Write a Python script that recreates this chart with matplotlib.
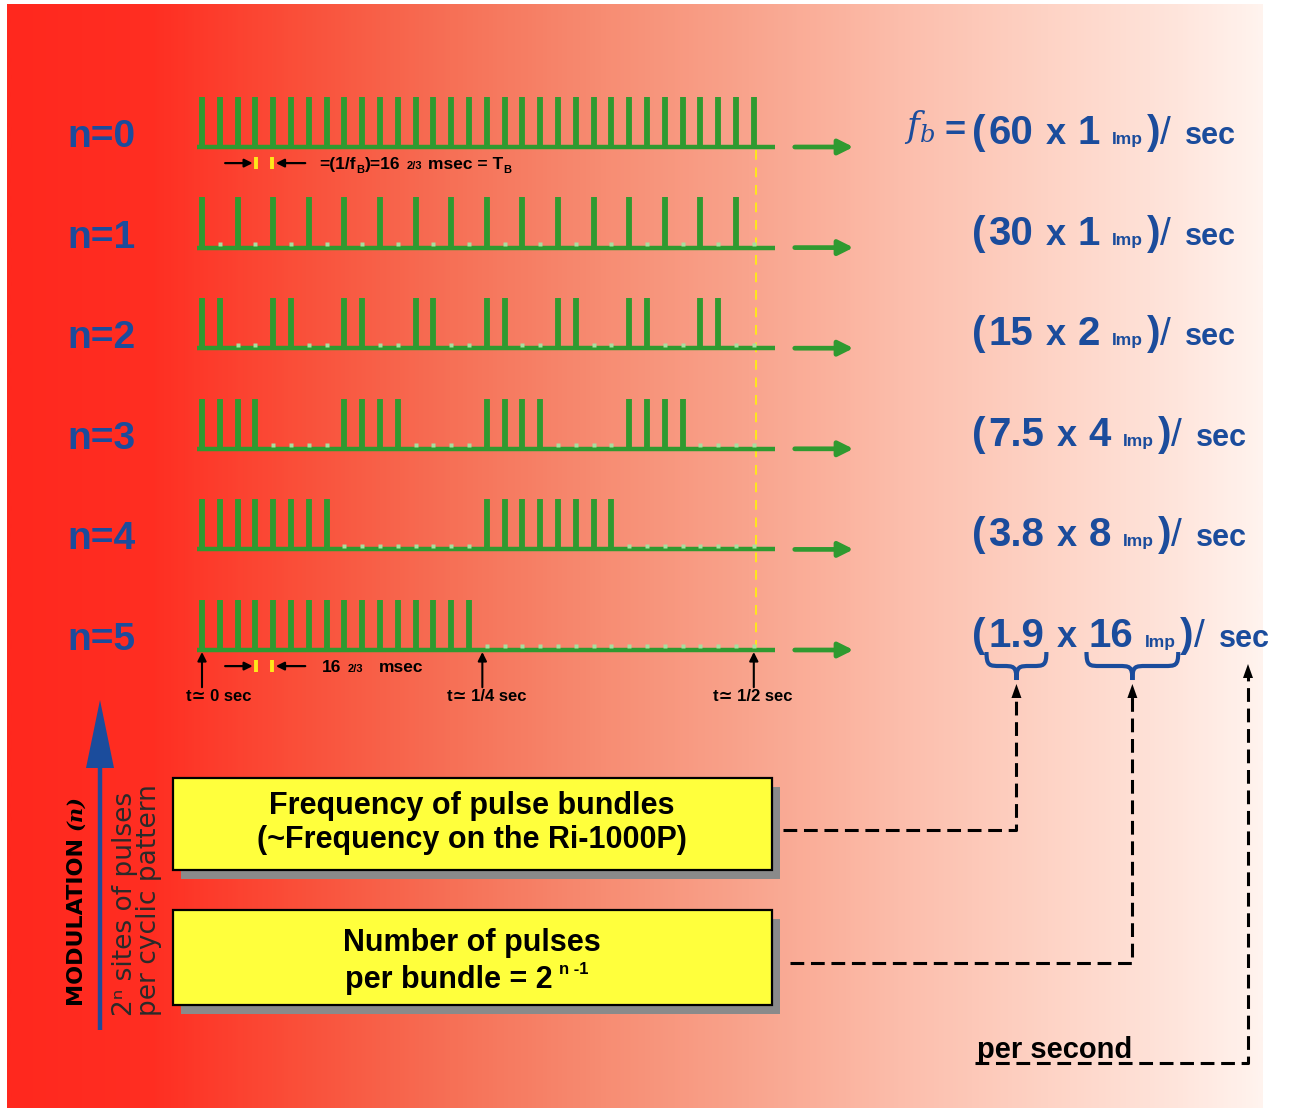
import matplotlib
matplotlib.use('Agg')
import matplotlib.pyplot as plt
import numpy as np
from matplotlib.patches import Rectangle, Polygon, PathPatch
from matplotlib.path import Path
from matplotlib.colors import LinearSegmentedColormap

plt.rcParams['font.family'] = ['Liberation Sans', 'DejaVu Sans']

# ---- data ----
row_labels = ['n=0', 'n=1', 'n=2', 'n=3', 'n=4', 'n=5']
# 1 = pulse at that site, 0 = empty site (small dot)
pulse_patterns = [
    '11111111111111111111111111111111',
    '10101010101010101010101010101010',
    '11001100110011001100110011001100',
    '11110000111100001111000011110000',
    '11111111000000001111111100000000',
    '11111111111111110000000000000000',
]
bundle_freq = ['60', '30', '15', '7.5', '3.8', '1.9']
pulses_per_bundle = ['1', '1', '2', '4', '8', '16']
time_marks = [0, 15.75, 31]
time_labels = ['t\u2243 0 sec', 't\u2243 1/4 sec', 't\u2243 1/2 sec']
time_label_x = [186, 447, 713]

GREEN = '#2f9a30'
DOT = '#a6e0a0'
BLUE = '#1b4c9c'
YEL = '#ffff3c'
NARROW = ['Liberation Sans Narrow', 'Liberation Sans', 'DejaVu Sans']

fig = plt.figure(figsize=(12.93, 11.08), dpi=100, facecolor='white')
rend = fig.canvas.get_renderer()

# background axes in pixel units
bg = fig.add_axes([0, 0, 1, 1])
gx = np.array([7, 150, 300, 450, 600, 750, 900, 1050, 1180, 1263])
gc = np.array([(255, 40, 30), (255, 46, 34), (250, 80, 58), (246, 112, 86),
               (247, 140, 114), (249, 164, 141), (252, 189, 171),
               (254, 211, 197), (255, 229, 220), (255, 243, 238)]) / 255
cmap = LinearSegmentedColormap.from_list('bg', list(zip((gx - 7) / (1263 - 7), gc)))
bg.imshow(np.linspace(0, 1, 600)[None, :], cmap=cmap, extent=[7, 1263, 1108, 4],
          aspect='auto', zorder=0, interpolation='bilinear')
bg.set_xlim(0, 1293)
bg.set_ylim(1108, 0)
bg.axis('off')

# pulse-train axes: x = pulse site index, y = row n
S = 17.8
ROW = 100.6
x_lo, x_hi, y_lo, y_hi = -1, 38, -0.8, 5.6
left_px = 202 + x_lo * S
top_px = 147 + y_lo * ROW
bot_px = 147 + y_hi * ROW
pa = fig.add_axes([left_px / 1293, 1 - bot_px / 1108,
                   (x_hi - x_lo) * S / 1293, (bot_px - top_px) / 1108])
pa.set_xlim(x_lo, x_hi)
pa.set_ylim(y_hi, y_lo)
pa.axis('off')
pa.patch.set_alpha(0)

for i, pat in enumerate(pulse_patterns):
    sites = np.arange(len(pat))
    on = sites[np.array([c == '1' for c in pat])]
    off = sites[np.array([c == '0' for c in pat])]
    pa.plot([-0.3, 32.2], [i, i], color=GREEN, lw=3.2, solid_capstyle='butt', zorder=3)
    pa.vlines(on, i, i - 0.5, color=GREEN, lw=4.2, zorder=3)
    pa.plot(off, [i - 0.035] * len(off), 's', ms=2.8, color=DOT, mec='none', zorder=4)
    pa.annotate('', xy=(36.6, i), xytext=(33.3, i),
                arrowprops=dict(arrowstyle='-|>', color=GREEN, lw=3.4,
                                mutation_scale=22, shrinkA=0, shrinkB=0))

# yellow dashed marker at 1/2 sec
pa.plot([time_marks[2] + 0.15] * 2, [0.03, 5], color='#ffe81a', lw=1.4,
        ls=(0, (5, 4)), zorder=2)

# time arrows under last row
for s in time_marks:
    pa.annotate('', xy=(s, 5.02), xytext=(s, 5.37),
                arrowprops=dict(arrowstyle='-|>', color='black', lw=1.5,
                                mutation_scale=13, shrinkA=0, shrinkB=0))


def to_bg(x, y):
    return bg.transData.inverted().transform(pa.transData.transform((x, y)))


def run(x, y, pieces, **common):
    spans = []
    for txt, size, dy, gap, kw in pieces:
        opts = dict(common)
        opts.update(kw)
        t = bg.text(x, y + dy, txt, fontsize=size, va='baseline', ha='left', **opts)
        w = t.get_window_extent(renderer=rend).width
        spans.append((x, x + w))
        x += w + gap
    return spans


# period markers ->| |<- (rows 0 and 5)
for r in (0, 5):
    yb = r + 0.16
    pa.annotate('', xy=(2.85, yb), xytext=(1.3, yb),
                arrowprops=dict(arrowstyle='-|>', color='black', lw=1.6,
                                mutation_scale=12, shrinkA=0, shrinkB=0))
    pa.annotate('', xy=(4.15, yb), xytext=(5.8, yb),
                arrowprops=dict(arrowstyle='-|>', color='black', lw=1.6,
                                mutation_scale=12, shrinkA=0, shrinkB=0))
    pa.vlines([3.05, 3.95], yb - 0.06, yb + 0.06, color='#ffe81a', lw=2.8, zorder=5)

bx, by = to_bg(6.6, 0.16)
run(bx, by + 6, [('=(1/f', 12.5, 0, 0, {}), ('B', 8, 4, 1, {}), (')=16', 12.5, 0, 6, {}),
                 ('2/3', 8, 0, 6, {}), ('msec = T', 12.5, 0, 0, {}), ('B', 8, 4, 0, {})],
    color='black', weight='bold')
bx, by = to_bg(6.75, 5.16)
run(bx, by + 6, [('16', 12.5, 0, 6, {}), ('2/3', 8, 0, 16, {}), ('msec', 12.5, 0, 0, {})],
    color='black', weight='bold')

for lab, lx in zip(time_labels, time_label_x):
    bg.text(lx, 701, lab, fontsize=12, weight='bold', color='black', va='baseline')

# row labels and frequency expressions
spans5 = None
for i in range(len(row_labels)):
    _, yb = to_bg(0, i)
    bg.text(67, yb, row_labels[i], fontsize=28, weight='bold', color=BLUE,
            va='baseline', ha='left')
    sp = run(972, yb - 3,
             [('(', 29, 0, 3, {}), (bundle_freq[i], 29, 0, 12, {}), ('x', 26, 0, 12, {}),
              (pulses_per_bundle[i], 29, 0, 12, {}), ('Imp', 12.5, 0, 4, {}),
              (')', 29, 0, 0, {}), ('/', 28, 0, 14, {'weight': 'normal'}),
              ('sec', 22, 0, 0, {})],
             color=BLUE, weight='bold')
    if i == 5:
        spans5 = sp
_, yb0 = to_bg(0, 0)
bg.text(904, yb0 - 10, r'$f_b$', fontsize=25, color=BLUE, ha='left', va='baseline',
        math_fontfamily='dejavuserif')
bg.text(945, yb0 - 6, '=', fontsize=26, color=BLUE, weight='bold', ha='left', va='baseline')


def brace(x0, x1, ytop, ybot, **kw):
    xm = (x0 + x1) / 2
    ym = (ytop + ybot) / 2
    r = min((ybot - ytop) / 2, (x1 - x0) / 4)
    verts = [(x0, ytop), (x0, ytop + r), (x0 + r * 0.2, ym), (x0 + r, ym),
             (xm - r, ym),
             (xm - r * 0.2, ym), (xm, ym), (xm, ybot),
             (xm, ym), (xm + r * 0.2, ym), (xm + r, ym),
             (x1 - r, ym),
             (x1 - r * 0.2, ym), (x1, ytop + r), (x1, ytop)]
    codes = [Path.MOVETO, Path.CURVE4, Path.CURVE4, Path.CURVE4, Path.LINETO,
             Path.CURVE4, Path.CURVE4, Path.CURVE4,
             Path.CURVE4, Path.CURVE4, Path.CURVE4, Path.LINETO,
             Path.CURVE4, Path.CURVE4, Path.CURVE4]
    bg.add_patch(PathPatch(Path(verts, codes), fc='none', **kw))
    return xm


tip1 = brace(spans5[1][0] - 2, spans5[1][1] + 2, 652, 680, ec=BLUE, lw=3)
tip2 = brace(spans5[3][0] - 2, spans5[4][1] + 2, 652, 680, ec=BLUE, lw=3)
tip3 = (spans5[7][0] + spans5[7][1]) / 2 + 4

# yellow boxes with shadow
box_y = [(778, 870), (910, 1005)]
for (y0, y1) in box_y:
    bg.add_patch(Rectangle((181, y0 + 9), 599, y1 - y0, fc='#8a8a8a', ec='none', zorder=2))
    bg.add_patch(Rectangle((173, y0), 599, y1 - y0, fc=YEL, ec='black', lw=1.6, zorder=3))

bg.text(472, 806, 'Frequency of pulse bundles', fontsize=22, weight='bold',
        family=NARROW, ha='center', va='center', zorder=4)
bg.text(472, 840, '(~Frequency on the Ri-1000P)', fontsize=22, weight='bold',
        family=NARROW, ha='center', va='center', zorder=4)
bg.text(472, 943, 'Number of pulses', fontsize=22, weight='bold',
        family=NARROW, ha='center', va='center', zorder=4)
run(345, 988, [('per bundle = 2', 22, 0, 6, {}), ('n -1', 12, -14, 0, {})],
    color='black', weight='bold', family=NARROW, zorder=4)

# dashed leader lines with arrow heads
DASH = (0, (4.5, 2.2))
for (xa, ya, xt, ytip) in [(783, 830, tip1, 684), (790, 963, tip2, 684), (975, 1063, tip3, 664)]:
    bg.plot([xa, xt, xt], [ya, ya, ytip + 12], color='black', lw=2.2, ls=DASH,
            solid_capstyle='butt')
    bg.add_patch(Polygon([(xt - 5, ytip + 14), (xt + 5, ytip + 14), (xt, ytip)],
                         closed=True, fc='black', ec='none'))
bg.text(977, 1058, 'per second', fontsize=21, weight='bold', family=NARROW,
        color='black', ha='left', va='baseline')

# modulation arrow and rotated labels
bg.plot([100, 100], [1030, 760], color=BLUE, lw=3.2, solid_capstyle='butt')
bg.add_patch(Polygon([(86, 768), (114, 768), (100, 700)], closed=True, fc=BLUE, ec='none'))
t = bg.text(75, 1004, 'MODULATION', rotation=90, fontsize=16, weight='bold',
            family='DejaVu Sans', ha='center', va='bottom')
h = t.get_window_extent(renderer=rend).height
bg.text(75, 1004 - h - 6, '(n)', rotation=90, fontsize=15, weight='bold', style='italic',
        family='DejaVu Serif', ha='center', va='bottom')
bg.text(125, 1016, '2\u207f sites of pulses', rotation=90, fontsize=19,
        family='DejaVu Sans', color='#2a2a2a', ha='center', va='bottom')
bg.text(149, 1016, 'per cyclic pattern', rotation=90, fontsize=19,
        family='DejaVu Sans', color='#2a2a2a', ha='center', va='bottom')

fig.savefig('out.png', dpi=100, facecolor='white')
